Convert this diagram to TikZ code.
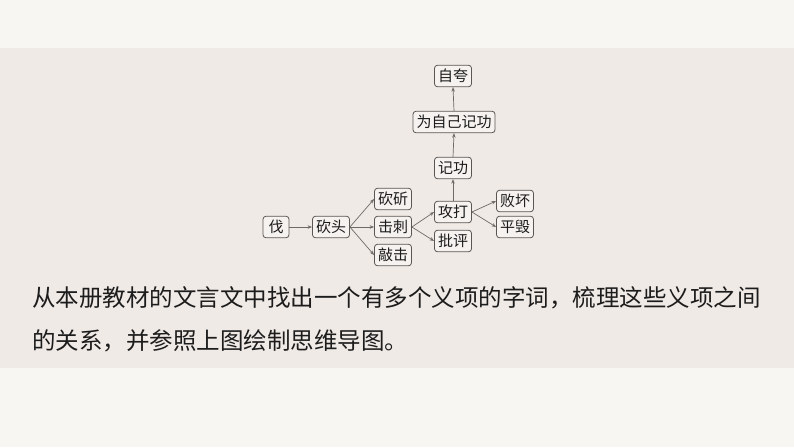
\documentclass[tikz,border=0pt]{standalone}
\usepackage{fontspec}
\setmainfont{Noto Sans CJK SC}
\usetikzlibrary{arrows.meta}
\definecolor{pagebg}{HTML}{F8F6F3}
\definecolor{bandbg}{HTML}{F0EAE6}
\definecolor{boxline}{HTML}{5A5653}
\definecolor{arrowgray}{HTML}{6E6A67}
\definecolor{inktext}{HTML}{1C1C1C}
\tikzset{
    meaning/.style = {draw = boxline, line width = 0.8pt, rounded corners = 3pt,
                      fill = bandbg!60!white, font = \fontsize{15}{16}\selectfont,
                      text = inktext, inner xsep = 3.5pt, inner ysep = 0pt,
                      minimum height = 21.5pt, minimum width = 26pt},
    link/.style    = {draw = arrowgray, line width = 0.7pt,
                      -{Stealth[length = 4.5pt, width = 3.5pt]}},
    task/.style    = {anchor = west, inner sep = 0pt, text = inktext,
                      font = \fontsize{23.5}{26}\selectfont}
}
\begin{document}
\begin{tikzpicture}[x = 1pt, y = -1pt]
                \useasboundingbox (0,0) rectangle (794,447);
                \fill [pagebg]  (0,0)  rectangle (794,447);
                \fill [bandbg]  (0,48) rectangle (794,368);

                % the word and its meanings
                \node [meaning] (fa)      at (276,227) {伐};
                \node [meaning] (kantou)  at (331,227) {砍头};

                \node [meaning] (kanzhuo) at (393,199) {砍斫};
                \node [meaning] (jici)    at (393,227) {击刺};
                \node [meaning] (qiaoji)  at (393,255) {敲击};

                \node [meaning] (gongda)  at (453,212) {攻打};
                \node [meaning] (piping)  at (453,241) {批评};

                \node [meaning] (jigong)  at (453,168) {记功};
                \node [meaning] (weiziji) at (454,122) {为自己记功};
                \node [meaning] (zikua)   at (453,76)  {自夸};

                \node [meaning] (baihuai) at (515,201) {败坏};
                \node [meaning] (pinghui) at (515,227) {平毁};

                \draw [link] (fa.east)     -- (kantou.west);

                \draw [link] (kantou.east) -- (kanzhuo.west);
                \draw [link] (kantou.east) -- (jici.west);
                \draw [link] (kantou.east) -- (qiaoji.west);

                \draw [link] (jici.east)   -- (gongda.west);
                \draw [link] (jici.east)   -- (piping.west);

                \draw [link] (gongda.north)  -- (jigong.south);
                \draw [link] (jigong.north)  -- (weiziji.south);
                \draw [link] (weiziji.north) -- (zikua.south);

                \draw [link] (gongda.east) -- (baihuai.west);
                \draw [link] (gongda.east) -- (pinghui.west);

                % the task
                \node [task] (line1) at (32,298) {从本册教材的文言文中找出一个有多个义项的字词，梳理这些义项之间};
                \node [task] (line2) at (32,341) {的关系，并参照上图绘制思维导图。};
\end{tikzpicture}
\end{document}
